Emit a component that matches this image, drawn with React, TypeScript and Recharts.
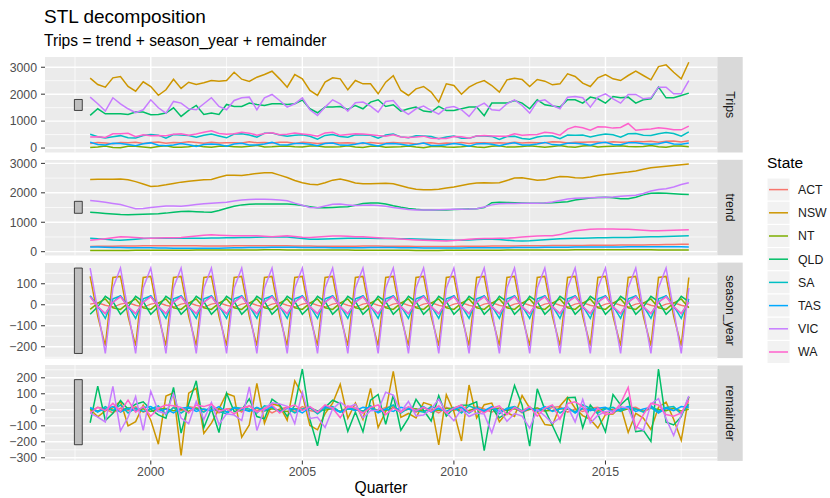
import React from 'react';
import { LineChart, Line, XAxis, YAxis, CartesianGrid, ReferenceArea } from 'recharts';

const FONT = '"Liberation Sans", Arial, Helvetica, sans-serif';

const states = ['ACT', 'NSW', 'NT', 'QLD', 'SA', 'TAS', 'VIC', 'WA'];
const stateColors = ['#F8766D', '#CD9600', '#7CAE00', '#00BE67', '#00BFC4', '#00A9FF', '#C77CFF', '#FF61CC'];

// quarters 1998 Q1 .. 2017 Q4
const firstYear = 1998;
const quarterCount = 80;
const quarters = Array.from({ length: quarterCount }, (_, i) => firstYear + i / 4);

const majorYears = [2000, 2005, 2010, 2015];
const minorYears = [1997.5, 2002.5, 2007.5, 2012.5, 2017.5];

// ---- Trips ----
const tripsACT = [173, 207, 188, 157, 203, 197, 213, 172, 208, 222, 176, 207, 200, 230, 206, 175, 213, 185, 199, 197,
  188, 237, 196, 202, 185, 215, 211, 174, 216, 195, 171, 185, 193, 185, 199, 182, 173, 210, 182, 192,
  209, 184, 185, 154, 192, 193, 156, 183, 178, 202, 172, 195, 196, 185, 200, 178, 214, 188, 203, 201,
  197, 231, 226, 184, 220, 214, 224, 222, 203, 237, 217, 225, 246, 231, 252, 212, 250, 266, 228, 269];
const tripsNSW = [2593, 2359, 2260, 2607, 2656, 2285, 2111, 2459, 2285, 1960, 2163, 2556, 2213, 2444, 2359, 2422, 2507, 2481, 2507, 2815,
  2556, 2470, 2630, 2730, 2853, 2569, 2260, 2730, 2569, 2137, 1952, 2446, 2606, 2569, 2162, 2507, 2384, 2384, 2014, 2446,
  2685, 2137, 1952, 2199, 2285, 2075, 1705, 2384, 2322, 2000, 2260, 2409, 2507, 2322, 2075, 2532, 2594, 2544, 2285, 2544,
  2483, 2347, 2384, 2754, 2655, 2409, 2285, 2606, 2730, 2569, 2507, 2693, 2853, 2693, 2532, 3026, 3088, 2816, 2569, 3186];
const tripsNT = [23, 40, 79, 25, 15, 64, 69, 39, 15, 61, 85, 30, 32, 51, 92, 44, 26, 70, 73, 53,
  39, 63, 102, 40, 46, 67, 79, 53, 41, 75, 79, 40, 41, 51, 86, 41, 22, 68, 73, 28,
  37, 46, 76, 36, 13, 56, 67, 39, 34, 48, 73, 40, 18, 66, 89, 35, 38, 55, 86, 54,
  30, 62, 96, 51, 30, 78, 95, 42, 56, 70, 87, 57, 47, 60, 99, 49, 32, 78, 79, 48];
const tripsQLD = [1211, 1458, 1273, 1273, 1273, 1248, 1335, 1335, 1236, 1248, 1298, 1495, 1174, 1396, 1581, 1248, 1298, 1248, 1618, 1544,
  1544, 1668, 1618, 1581, 1643, 1643, 1618, 1643, 1780, 1458, 1310, 1520, 1520, 1544, 1430, 1581, 1458, 1705, 1791, 1544,
  1606, 1372, 1458, 1520, 1372, 1335, 1544, 1396, 1396, 1458, 1520, 1520, 1200, 1668, 1668, 1668, 1767, 1668, 1458, 1791,
  1606, 1557, 1520, 1791, 1791, 1668, 1890, 1828, 1668, 1915, 1865, 1890, 1668, 1791, 1828, 2260, 1865, 1865, 1952, 2038];
const tripsSA = [510, 420, 375, 423, 461, 380, 370, 463, 505, 478, 363, 501, 480, 463, 398, 473, 524, 451, 380, 518,
  532, 485, 405, 548, 557, 488, 440, 478, 492, 435, 333, 468, 502, 430, 398, 496, 487, 472, 370, 481,
  518, 415, 380, 453, 450, 430, 345, 413, 446, 367, 360, 443, 450, 433, 320, 428, 437, 356, 325, 408,
  452, 443, 350, 483, 479, 483, 410, 478, 522, 490, 405, 533, 537, 477, 463, 528, 575, 540, 440, 600];
const tripsTAS = [217, 133, 113, 177, 167, 135, 88, 159, 192, 106, 88, 112, 170, 119, 63, 132, 154, 128, 68, 152,
  182, 118, 115, 152, 210, 123, 118, 165, 167, 145, 88, 170, 184, 109, 103, 142, 193, 136, 78, 157,
  170, 138, 95, 137, 190, 99, 93, 127, 173, 131, 68, 154, 171, 144, 85, 154, 195, 113, 110, 152,
  210, 128, 115, 181, 177, 153, 109, 179, 215, 133, 125, 196, 198, 161, 143, 163, 222, 151, 143, 189];
const tripsVIC = [1890, 1644, 1372, 1866, 1644, 1458, 1310, 1421, 1791, 1495, 1298, 1730, 1668, 1458, 1421, 1644, 1866, 1544, 1421, 1767,
  1866, 1890, 1421, 1866, 1989, 1767, 1520, 1643, 1865, 1421, 1211, 1520, 1791, 1643, 1372, 1680, 1705, 1557, 1335, 1730,
  1767, 1433, 1250, 1458, 1557, 1396, 1260, 1495, 1544, 1421, 1174, 1520, 1668, 1421, 1396, 1643, 1791, 1581, 1298, 1730,
  1791, 1581, 1458, 1890, 1915, 1865, 1520, 1890, 2014, 1828, 1668, 1989, 1989, 1828, 1865, 2260, 2260, 2014, 2014, 2507];
const tripsWA = [407, 417, 393, 527, 531, 547, 423, 497, 456, 464, 458, 512, 533, 477, 518, 587, 645, 542, 513, 527,
  585, 554, 480, 537, 571, 497, 510, 557, 523, 492, 438, 557, 583, 472, 503, 532, 521, 497, 463, 442,
  494, 407, 393, 407, 442, 362, 355, 358, 428, 422, 366, 452, 464, 452, 438, 440, 528, 477, 493, 502,
  585, 562, 478, 702, 796, 752, 663, 790, 778, 740, 763, 912, 663, 687, 706, 754, 728, 682, 676, 814];

// ---- trend ----
const trendACT = [180, 182, 185, 188, 190, 192, 195, 198, 200, 202, 203, 203, 202, 200, 198, 196, 195, 195, 196, 198,
  200, 202, 203, 203, 202, 200, 198, 195, 193, 190, 188, 186, 185, 185, 186, 188, 190, 190, 189, 188,
  186, 184, 182, 180, 179, 178, 178, 179, 180, 182, 184, 186, 188, 190, 192, 194, 196, 198, 200, 202,
  204, 206, 208, 210, 212, 214, 216, 218, 220, 222, 224, 226, 228, 231, 234, 238, 242, 246, 250, 255];
const trendNSW = [2455, 2458, 2462, 2465, 2466, 2440, 2380, 2300, 2215, 2230, 2272, 2320, 2363, 2395, 2420, 2440, 2455, 2530, 2600, 2600,
  2592, 2620, 2660, 2684, 2680, 2600, 2520, 2420, 2340, 2290, 2272, 2340, 2430, 2465, 2410, 2335, 2310, 2305, 2320, 2325,
  2310, 2240, 2170, 2120, 2105, 2100, 2120, 2160, 2200, 2250, 2300, 2330, 2340, 2335, 2345, 2420, 2500, 2510, 2470, 2425,
  2440, 2500, 2555, 2545, 2510, 2500, 2540, 2590, 2625, 2650, 2680, 2705, 2740, 2800, 2850, 2880, 2905, 2930, 2955, 2975];
const trendNT = [40, 40, 41, 42, 43, 44, 45, 46, 47, 48, 49, 50, 51, 52, 53, 54, 55, 56, 57, 58,
  59, 60, 61, 62, 62, 62, 61, 60, 59, 58, 57, 56, 55, 54, 53, 52, 51, 50, 49, 48,
  47, 46, 45, 44, 44, 44, 44, 45, 46, 47, 48, 49, 50, 51, 52, 53, 54, 55, 56, 57,
  58, 59, 60, 61, 62, 63, 64, 65, 66, 66, 66, 65, 64, 63, 62, 61, 60, 60, 59, 58];
const trendQLD = [1337, 1320, 1300, 1280, 1260, 1255, 1260, 1270, 1279, 1290, 1310, 1340, 1365, 1370, 1360, 1345, 1337, 1400, 1474, 1540,
  1590, 1610, 1620, 1622, 1622, 1622, 1620, 1600, 1570, 1530, 1495, 1490, 1505, 1515, 1525, 1580, 1640, 1655, 1655, 1620,
  1560, 1510, 1470, 1440, 1420, 1415, 1416, 1420, 1430, 1440, 1450, 1455, 1500, 1665, 1678, 1672, 1660, 1650, 1645, 1645,
  1650, 1665, 1680, 1700, 1758, 1790, 1820, 1840, 1850, 1830, 1795, 1800, 1850, 1930, 1985, 1990, 1987, 1970, 1955, 1941];
const trendSA = [458, 440, 420, 400, 389, 405, 425, 445, 458, 458, 458, 458, 458, 458, 458, 460, 462, 466, 470, 475,
  480, 485, 490, 495, 500, 503, 495, 470, 445, 425, 423, 430, 440, 450, 458, 458, 455, 452, 450, 448,
  446, 440, 435, 430, 423, 415, 405, 395, 389, 392, 400, 410, 418, 423, 410, 390, 375, 366, 375, 390,
  405, 423, 435, 445, 452, 458, 465, 470, 475, 480, 480, 485, 490, 497, 503, 510, 518, 525, 530, 537];
const trendTAS = [160, 155, 150, 145, 140, 137, 135, 132, 130, 128, 125, 120, 118, 116, 115, 115, 117, 120, 125, 130,
  135, 140, 142, 145, 148, 150, 150, 148, 145, 142, 140, 138, 137, 136, 135, 135, 136, 138, 140, 140,
  138, 135, 132, 130, 128, 126, 125, 125, 126, 128, 130, 132, 134, 136, 137, 137, 138, 140, 142, 145,
  148, 150, 152, 154, 155, 155, 156, 157, 158, 160, 162, 164, 166, 168, 170, 171, 170, 168, 165, 162];
const trendVIC = [1736, 1715, 1680, 1640, 1600, 1530, 1460, 1470, 1500, 1530, 1555, 1550, 1545, 1570, 1600, 1625, 1645, 1660, 1678, 1720,
  1758, 1772, 1782, 1778, 1770, 1755, 1730, 1650, 1580, 1500, 1490, 1550, 1610, 1620, 1590, 1565, 1580, 1588, 1570, 1540,
  1500, 1470, 1430, 1416, 1414, 1416, 1425, 1432, 1438, 1442, 1448, 1460, 1520, 1590, 1625, 1635, 1640, 1645, 1645, 1648,
  1655, 1690, 1740, 1790, 1816, 1825, 1835, 1845, 1850, 1860, 1880, 1900, 1920, 1980, 2060, 2110, 2140, 2200, 2280, 2341];
const trendWA = [389, 410, 440, 475, 503, 495, 480, 465, 458, 462, 470, 475, 480, 505, 530, 555, 572, 560, 550, 540,
  537, 537, 537, 520, 503, 525, 537, 515, 490, 480, 495, 515, 535, 530, 520, 510, 503, 490, 475, 460,
  446, 430, 415, 400, 389, 380, 372, 366, 380, 400, 423, 435, 446, 450, 455, 458, 475, 495, 515, 530,
  537, 540, 580, 650, 708, 740, 765, 768, 770, 768, 765, 760, 745, 725, 708, 712, 720, 730, 738, 742];

// ---- season_year ----
const seasonACT = [3, 10, -2, -11, 3, 10, -2, -11, 3, 10, -2, -11, 3, 10, -2, -11, 3, 10, -2, -11,
  3, 10, -2, -11, 3, 10, -2, -11, 3, 10, -2, -11, 3, 10, -2, -11, 3, 10, -2, -11,
  3, 10, -2, -11, 3, 10, -2, -11, 3, 10, -2, -11, 3, 10, -2, -11, 3, 10, -2, -11,
  3, 10, -2, -11, 3, 10, -2, -11, 3, 10, -2, -11, 3, 10, -2, -11, 3, 10, -2, -11];
const seasonNSW = [135, -55, -195, 130, 135, -55, -195, 130, 135, -55, -195, 130, 135, -55, -195, 130, 135, -55, -195, 130,
  135, -55, -195, 130, 135, -55, -195, 130, 135, -55, -195, 130, 135, -55, -195, 130, 135, -55, -195, 130,
  135, -55, -195, 130, 135, -55, -195, 130, 135, -55, -195, 130, 135, -55, -195, 130, 135, -55, -195, 130,
  135, -55, -195, 130, 135, -55, -195, 130, 135, -55, -195, 130, 135, -55, -195, 130, 135, -55, -195, 130];
const seasonNT = [-22, 8, 28, -14, -22, 8, 28, -14, -22, 8, 28, -14, -22, 8, 28, -14, -22, 8, 28, -14,
  -22, 8, 28, -14, -22, 8, 28, -14, -22, 8, 28, -14, -22, 8, 28, -14, -22, 8, 28, -14,
  -22, 8, 28, -14, -22, 8, 28, -14, -22, 8, 28, -14, -22, 8, 28, -14, -22, 8, 28, -14,
  -22, 8, 28, -14, -22, 8, 28, -14, -22, 8, 28, -14, -22, 8, 28, -14, -22, 8, 28, -14];
const seasonQLD = [-45, -10, 40, 15, -45, -10, 40, 15, -45, -10, 40, 15, -45, -10, 40, 15, -45, -10, 40, 15,
  -45, -10, 40, 15, -45, -10, 40, 15, -45, -10, 40, 15, -45, -10, 40, 15, -45, -10, 40, 15,
  -45, -10, 40, 15, -45, -10, 40, 15, -45, -10, 40, 15, -45, -10, 40, 15, -45, -10, 40, 15,
  -45, -10, 40, 15, -45, -10, 40, 15, -45, -10, 40, 15, -45, -10, 40, 15, -45, -10, 40, 15];
const seasonSA = [42, -5, -65, 28, 42, -5, -65, 28, 42, -5, -65, 28, 42, -5, -65, 28, 42, -5, -65, 28,
  42, -5, -65, 28, 42, -5, -65, 28, 42, -5, -65, 28, 42, -5, -65, 28, 42, -5, -65, 28,
  42, -5, -65, 28, 42, -5, -65, 28, 42, -5, -65, 28, 42, -5, -65, 28, 42, -5, -65, 28,
  42, -5, -65, 28, 42, -5, -65, 28, 42, -5, -65, 28, 42, -5, -65, 28, 42, -5, -65, 28];
const seasonTAS = [42, -12, -42, 12, 42, -12, -42, 12, 42, -12, -42, 12, 42, -12, -42, 12, 42, -12, -42, 12,
  42, -12, -42, 12, 42, -12, -42, 12, 42, -12, -42, 12, 42, -12, -42, 12, 42, -12, -42, 12,
  42, -12, -42, 12, 42, -12, -42, 12, 42, -12, -42, 12, 42, -12, -42, 12, 42, -12, -42, 12,
  42, -12, -42, 12, 42, -12, -42, 12, 42, -12, -42, 12, 42, -12, -42, 12, 42, -12, -42, 12];
const seasonVIC = [175, -25, -232, 80, 175, -25, -232, 80, 175, -25, -232, 80, 175, -25, -232, 80, 175, -25, -232, 80,
  175, -25, -232, 80, 175, -25, -232, 80, 175, -25, -232, 80, 175, -25, -232, 80, 175, -25, -232, 80,
  175, -25, -232, 80, 175, -25, -232, 80, 175, -25, -232, 80, 175, -25, -232, 80, 175, -25, -232, 80,
  175, -25, -232, 80, 175, -25, -232, 80, 175, -25, -232, 80, 175, -25, -232, 80, 175, -25, -232, 80];
const seasonWA = [38, -8, -42, 12, 38, -8, -42, 12, 38, -8, -42, 12, 38, -8, -42, 12, 38, -8, -42, 12,
  38, -8, -42, 12, 38, -8, -42, 12, 38, -8, -42, 12, 38, -8, -42, 12, 38, -8, -42, 12,
  38, -8, -42, 12, 38, -8, -42, 12, 38, -8, -42, 12, 38, -8, -42, 12, 38, -8, -42, 12,
  38, -8, -42, 12, 38, -8, -42, 12, 38, -8, -42, 12, 38, -8, -42, 12, 38, -8, -42, 12];

// ---- remainder ----
const remainderACT = [-10, 15, 5, -20, 10, -5, 20, -15, 5, 10, -25, 15, -5, 20, 10, -10, 15, -20, 5, 10,
  -15, 25, -5, 10, -20, 5, 15, -10, 20, -5, -15, 10, 5, -10, 15, 5, -20, 10, -5, 15,
  20, -10, 5, -15, 10, 5, -20, 15, -5, 10, -10, 20, 5, -15, 10, -5, 15, -20, 5, 10,
  -10, 15, 20, -15, 5, -10, 10, 15, -20, 5, -5, 10, 15, -10, 20, -15, 5, 10, -20, 25];
const remainderNSW = [3, -44, -7, 12, 55, -100, -74, 29, -65, -215, 86, 106, -285, 104, 134, -148, -83, 6, 102, 85,
  -171, -95, 165, -84, 38, 24, -65, 180, 94, -98, -125, -24, 41, 159, -53, 42, -61, 134, -111, -9,
  240, -48, -23, -51, 45, 30, -220, 94, -13, -195, 155, -51, 32, 42, -75, -18, -41, 89, 10, -11,
  -92, -98, 24, 79, 10, -36, -60, -114, -30, -26, 22, -142, -22, -52, -123, 16, 48, -59, -191, 81];
const remainderNT = [5, -8, 10, -3, -6, 12, -4, 7, -10, 5, 8, -6, 3, -9, 11, 4, -7, 6, -12, 9,
  2, -5, 13, -8, 6, -3, -10, 7, 4, 9, -6, -2, 8, -11, 5, 3, -7, 10, -4, -6,
  12, -8, 3, 6, -9, 4, -5, 8, 10, -7, -3, 5, -10, 7, 9, -4, 6, -8, 2, 11,
  -6, -5, 8, 4, -10, 7, 3, -9, 12, -4, -7, 6, 5, -11, 9, 2, -6, 10, -8, 4];
const remainderQLD = [-81, 148, -67, -22, 58, 3, 35, 50, 2, -32, -52, 140, -146, 36, 181, -112, 6, -142, 104, -11,
  -1, 68, -42, -56, 66, 31, -42, 28, 255, -62, -225, 15, 60, 39, -135, -14, -137, 60, 96, -91,
  91, -128, -52, 65, -3, -70, 88, -39, 11, 28, 30, 50, -255, 13, -50, -19, 152, 28, -227, 131,
  1, -98, -200, 76, 78, -112, 30, -27, -137, 95, 30, 75, -137, -129, -197, 255, -77, -95, -43, 82];
const remainderSA = [10, -15, 20, -5, 30, -20, 10, -10, 5, 25, -30, 15, -20, 10, 5, -15, 20, -10, -25, 15,
  10, 5, -20, 25, 15, -10, 10, -20, 5, 15, -25, 10, 20, -15, 5, 10, -10, 25, -15, 5,
  30, -20, 10, -5, -15, 20, 5, -10, 15, -20, 25, 5, -10, 15, -25, 10, 20, -5, 15, -10,
  5, 25, -20, 10, -15, 30, 10, -20, 5, 15, -10, 20, 5, -15, 25, -10, 15, 20, -25, 35];
const remainderTAS = [15, -10, 5, 20, -15, 10, -5, 15, 20, -10, 5, -20, 10, 15, -10, 5, -5, 20, -15, 10,
  5, -10, 15, -5, 20, -15, 10, 5, -20, 15, -10, 20, 5, -15, 10, -5, 15, 10, -20, 5,
  -10, 15, 5, -5, 20, -15, 10, -10, 5, 15, -20, 10, -5, 20, -10, 5, 15, -15, 10, -5,
  20, -10, 5, 15, -20, 10, -5, 10, 15, -15, 5, 20, -10, 5, 15, -20, 10, -5, 20, 15];
const remainderVIC = [-21, -46, -76, 146, -131, -47, 82, -129, 116, -10, -25, 100, -52, -87, 53, -61, 46, -91, -25, -33,
  -67, 143, -129, 8, 44, 37, 22, -87, 110, -54, -47, -110, 6, 48, 14, 35, -50, -6, -3, 110,
  92, -12, 52, -38, -32, 5, 67, -17, -69, 4, -42, -20, -27, -144, 3, -72, -24, -39, -115, 2,
  -39, -84, -50, 20, -76, 65, -83, -35, -11, -7, 20, 9, -106, -127, 37, 70, -55, -161, -34, 86];
const remainderWA = [-20, 15, -5, 40, -10, 60, -15, 20, -40, 10, 30, 25, 15, -20, 30, 20, 35, -10, 5, -25,
  10, 25, -15, 5, 30, -20, 15, 30, -5, 20, -15, 30, 10, -50, 25, 10, -20, 15, 30, -30,
  10, -15, 20, -5, 15, -10, 25, -20, 10, 30, -15, 5, -20, 10, 25, -30, 15, -10, 20, -40,
  10, 30, -60, 40, 50, 20, -60, 10, -30, -20, 40, 140, -120, -30, 40, 30, -30, -40, -20, 60];

type Series = Record<string, number[]>;

const panels: { label: string; series: Series; domain: [number, number]; ticks: number[]; minor: number[] }[] = [
  {
    label: 'Trips',
    series: { ACT: tripsACT, NSW: tripsNSW, NT: tripsNT, QLD: tripsQLD, SA: tripsSA, TAS: tripsTAS, VIC: tripsVIC, WA: tripsWA },
    domain: [-165, 3380],
    ticks: [0, 1000, 2000, 3000],
    minor: [500, 1500, 2500],
  },
  {
    label: 'trend',
    series: { ACT: trendACT, NSW: trendNSW, NT: trendNT, QLD: trendQLD, SA: trendSA, TAS: trendTAS, VIC: trendVIC, WA: trendWA },
    domain: [-130, 3115],
    ticks: [0, 1000, 2000, 3000],
    minor: [500, 1500, 2500],
  },
  {
    label: 'season_year',
    series: { ACT: seasonACT, NSW: seasonNSW, NT: seasonNT, QLD: seasonQLD, SA: seasonSA, TAS: seasonTAS, VIC: seasonVIC, WA: seasonWA },
    domain: [-256, 199],
    ticks: [-200, -100, 0, 100],
    minor: [-250, -150, -50, 50, 150],
  },
  {
    label: 'remainder',
    series: { ACT: remainderACT, NSW: remainderNSW, NT: remainderNT, QLD: remainderQLD, SA: remainderSA, TAS: remainderTAS, VIC: remainderVIC, WA: remainderWA },
    domain: [-317, 280],
    ticks: [-300, -200, -100, 0, 100, 200],
    minor: [-250, -150, -50, 50, 150, 250],
  },
];

const PANEL_TOPS = [57, 159.8, 262.6, 365.4];
const PANEL_H = 95.5;
const PAD = 8; // room above/below each panel so edge tick labels are not clipped
const Y_AXIS_W = 45;
const CHART_W = 717;
const X_AXIS_H = 22;
const xDomain: [number, number] = [1996.51, 2018.68];
const barX: [number, number] = [1997.48, 1997.74];

// scale bars span the range of the seasonal panel
const seasonValues = states.flatMap((s) => panels[2].series[s]);
const barHalf = (Math.max(...seasonValues) - Math.min(...seasonValues)) / 2;

const fmt = (v: number) => (v < 0 ? '\u2212' + Math.abs(v) : String(v));

const tickStyle = { fill: '#4D4D4D', fontSize: 12.3, fontFamily: FONT };

const Panel = ({ index }: { index: number }) => {
  const panel = panels[index];
  const showX = index === panels.length - 1;
  const rows = quarters.map((t, i) => {
    const row: Record<string, number> = { t };
    states.forEach((s) => {
      row[s] = panel.series[s][i];
    });
    return row;
  });
  const all = states.flatMap((s) => panel.series[s]);
  const mid = (Math.min(...all) + Math.max(...all)) / 2;

  return (
    <div style={{ position: 'absolute', left: 0, top: PANEL_TOPS[index] - PAD }}>
      <LineChart
        width={CHART_W}
        height={PANEL_H + 2 * PAD + (showX ? X_AXIS_H : 0)}
        data={rows}
        margin={{ top: PAD, right: 0, bottom: PAD, left: 0 }}
      >
        <CartesianGrid
          fill="#EBEBEB"
          stroke="#FFFFFF"
          strokeWidth={0.7}
          horizontalValues={panel.minor}
          verticalValues={minorYears}
        />
        <CartesianGrid stroke="#FFFFFF" strokeWidth={1.4} horizontalValues={panel.ticks} verticalValues={majorYears} />
        <XAxis
          type="number"
          dataKey="t"
          domain={xDomain}
          ticks={majorYears}
          interval={0}
          allowDataOverflow
          hide={!showX}
          height={X_AXIS_H}
          axisLine={false}
          tickLine={{ stroke: '#333333' }}
          tickSize={4}
          tickMargin={3}
          tick={tickStyle}
        />
        <YAxis
          type="number"
          domain={panel.domain}
          ticks={panel.ticks}
          interval={0}
          allowDataOverflow
          width={Y_AXIS_W}
          axisLine={false}
          tickLine={{ stroke: '#333333' }}
          tickSize={4}
          tickMargin={4}
          tick={tickStyle}
          tickFormatter={fmt}
        />
        <ReferenceArea
          x1={barX[0]}
          x2={barX[1]}
          y1={mid - barHalf}
          y2={mid + barHalf}
          fill="#BFBFBF"
          fillOpacity={1}
          stroke="#000000"
          strokeWidth={0.7}
        />
        {states.map((s, k) => (
          <Line
            key={s}
            type="linear"
            dataKey={s}
            stroke={stateColors[k]}
            strokeWidth={1.5}
            dot={false}
            activeDot={false}
            isAnimationActive={false}
          />
        ))}
      </LineChart>
    </div>
  );
};

const LEGEND_Y0 = 178;
const LEGEND_STEP = 23.2;

export default function App() {
  return (
    <div
      style={{
        position: 'absolute',
        left: 0,
        top: 0,
        width: 830,
        height: 498,
        background: '#FFFFFF',
        fontFamily: FONT,
        overflow: 'hidden',
      }}
    >
      {panels.map((p, i) => (
        <Panel key={p.label} index={i} />
      ))}
      <svg width={830} height={498} style={{ position: 'absolute', left: 0, top: 0, pointerEvents: 'none' }}>
        <text x={44} y={22.5} fontSize={19} fontFamily={FONT} fill="#000000">
          STL decomposition
        </text>
        <text x={44} y={46} fontSize={15.6} fontFamily={FONT} fill="#000000">
          Trips = trend + season_year + remainder
        </text>
        {panels.map((p, i) => (
          <g key={p.label}>
            <rect x={717.3} y={PANEL_TOPS[i]} width={25.4} height={PANEL_H} fill="#D9D9D9" />
            <text
              transform={`translate(730, ${PANEL_TOPS[i] + PANEL_H / 2}) rotate(90)`}
              textAnchor="middle"
              dominantBaseline="central"
              fontSize={12.3}
              fontFamily={FONT}
              fill="#1A1A1A"
            >
              {p.label}
            </text>
          </g>
        ))}
        <text x={381} y={493} textAnchor="middle" fontSize={15.6} fontFamily={FONT} fill="#000000">
          Quarter
        </text>
        <text x={767} y={168} fontSize={15.5} fontFamily={FONT} fill="#000000">
          State
        </text>
        {states.map((s, k) => {
          const y = LEGEND_Y0 + k * LEGEND_STEP;
          return (
            <g key={s}>
              <rect x={767} y={y} width={23} height={LEGEND_STEP} fill="#F2F2F2" stroke="#FFFFFF" strokeWidth={1} />
              <line x1={769} x2={788} y1={y + LEGEND_STEP / 2} y2={y + LEGEND_STEP / 2} stroke={stateColors[k]} strokeWidth={1.5} />
              <text x={798} y={y + LEGEND_STEP / 2 + 4.4} fontSize={12.3} fontFamily={FONT} fill="#1A1A1A">
                {s}
              </text>
            </g>
          );
        })}
      </svg>
    </div>
  );
}
